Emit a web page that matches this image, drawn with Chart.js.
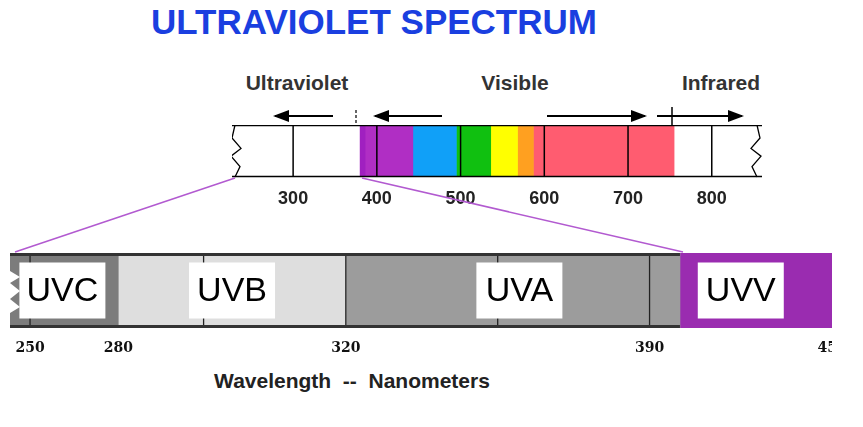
<!DOCTYPE html>
<html><head><meta charset="utf-8">
<script src="https://cdn.jsdelivr.net/npm/chart.js@4"></script>
<style>
body{margin:0;width:863px;height:427px;background:#fff;position:relative;overflow:hidden;font-family:Arial,"Liberation Sans",sans-serif}
.t{position:absolute;white-space:nowrap;transform:translate(-50%,-50%)}
#top{position:absolute;left:232px;top:125px;width:530px;height:82px}
#bot{position:absolute;left:10px;top:253px;width:822px;height:100px}
svg{position:absolute;left:0;top:0}
</style></head><body>
<div class="t" style="left:374px;top:22px;color:#1a3fe0;font-weight:bold;font-size:35px;">ULTRAVIOLET SPECTRUM</div>
<div class="t" style="left:297px;top:83px;color:#333;font-weight:bold;font-size:21px;">Ultraviolet</div>
<div class="t" style="left:515px;top:83px;color:#333;font-weight:bold;font-size:21px;">Visible</div>
<div class="t" style="left:721px;top:83px;color:#333;font-weight:bold;font-size:21px;">Infrared</div>
<div class="t" style="left:352px;top:381px;color:#222;font-weight:bold;font-size:21px;">Wavelength&nbsp;&nbsp;--&nbsp;&nbsp;Nanometers</div>
<div id="top"><canvas id="c1"></canvas></div>
<div id="bot"><canvas id="c2"></canvas></div>
<svg width="863" height="427">
<defs><marker id="ah" markerWidth="8" markerHeight="6" refX="7" refY="3" orient="auto"><path d="M0,0 L8,3 L0,6 z" fill="#000"/></marker></defs>
<g stroke="#000" stroke-width="2" fill="none">
<line x1="333" y1="116" x2="275" y2="116" marker-end="url(#ah)"/>
<line x1="442" y1="116" x2="375" y2="116" marker-end="url(#ah)"/>
<line x1="547" y1="116" x2="645" y2="116" marker-end="url(#ah)"/>
<line x1="657" y1="116" x2="742" y2="116" marker-end="url(#ah)"/>
<line x1="672" y1="107" x2="672" y2="125" stroke-width="1.5"/>
<line x1="356" y1="110" x2="356" y2="125" stroke-width="1.2" stroke-dasharray="3,2"/>
</g>
<g stroke="#b25ad0" stroke-width="1.5">
<line x1="235" y1="178" x2="15" y2="252"/>
<line x1="362" y1="178" x2="683" y2="252"/>
</g>
</svg>
<script>
// ---- top strip data (nm) ----
const topRange = [227, 860];
const topBands = [
  {label:'violet dark', from:380, to:386, color:'#a020c0'},
  {label:'violet', from:386, to:443, color:'#b02ec4'},
  {label:'blue', from:443, to:495, color:'#10a0f8'},
  {label:'green', from:495, to:536, color:'#10c010'},
  {label:'yellow', from:536, to:568, color:'#ffff00'},
  {label:'orange', from:568, to:587, color:'#ffa020'},
  {label:'red', from:587, to:755, color:'#ff5c70'}
];
const topTicks = [300, 400, 500, 600, 700, 800];

// ---- bottom strip data (nm) ----
const botBandNames = ['UVC', 'UVB', 'UVA', 'UVV'];
const botBandFrom = [243, 280, 320, 400];
const botBandTo   = [280, 320, 400, 450];
const botColors = ['#7c7c7c', '#dedede', '#9c9c9c', '#9a2cb0'];
const botLabelAt = [261, 300, 360, 420];
const botTicks = [250, 280, 320, 390, 450];
const botLines = [250, 295, 320, 355, 390];
// axis anchors: nm -> axis unit (non-uniform scale of the original drawing)
const axisNm = [243, 250, 280, 320, 390, 450];
const axisU  = [0, 20, 108, 335, 638, 820];
function nmToU(v){for(let i=1;i<axisNm.length;i++){if(v<=axisNm[i]||i===axisNm.length-1){const a=axisNm[i-1],b=axisNm[i];return axisU[i-1]+(v-a)*(axisU[i]-axisU[i-1])/(b-a);}}}
function uToNm(u){for(let i=1;i<axisU.length;i++){if(u<=axisU[i]+0.01||i===axisU.length-1){const a=axisU[i-1],b=axisU[i];return axisNm[i-1]+(u-a)*(axisNm[i]-axisNm[i-1])/(b-a);}}}

function zig(ctx,x,top,bot,dir){ctx.save();ctx.strokeStyle='#000';ctx.lineWidth=1.3;ctx.beginPath();const h=bot-top;
 ctx.moveTo(x,top);ctx.lineTo(x-3*dir,top+h*0.25);ctx.lineTo(x+6*dir,top+h*0.45);ctx.lineTo(x-4*dir,top+h*0.6);ctx.lineTo(x+5*dir,top+h*0.8);ctx.lineTo(x,bot);ctx.stroke();ctx.restore();}

const topPlugin={id:'topdec',afterDatasetsDraw(ch){const {ctx,chartArea:a,scales:{x}}=ch;ctx.save();ctx.strokeStyle='#000';ctx.lineWidth=1.5;
 topTicks.forEach(t=>{const p=x.getPixelForValue(t);ctx.beginPath();ctx.moveTo(p,a.top);ctx.lineTo(p,a.bottom);ctx.stroke();});
 ctx.beginPath();ctx.moveTo(a.left,a.top+0.5);ctx.lineTo(a.right,a.top+0.5);ctx.moveTo(a.left,a.bottom-0.5);ctx.lineTo(a.right,a.bottom-0.5);ctx.stroke();
 zig(ctx,a.left+3,a.top,a.bottom,1);zig(ctx,a.right-5,a.top,a.bottom,-1);ctx.restore();}};

new Chart(document.getElementById('c1'),{type:'bar',
 data:{labels:['s'],datasets:topBands.map(b=>({label:b.label,data:[[b.from,b.to]],backgroundColor:b.color,barPercentage:1,categoryPercentage:1,grouped:false}))},
 options:{indexAxis:'y',responsive:true,maintainAspectRatio:false,animation:false,layout:{padding:0},
  plugins:{legend:{display:false},tooltip:{enabled:false}},
  scales:{y:{display:false},
   x:{type:'linear',min:topRange[0],max:topRange[1],border:{display:false},grid:{display:false},
    afterBuildTicks(s){s.ticks=topTicks.map(v=>({value:v}));},
    afterFit(s){s.height=30;s.paddingLeft=0;s.paddingRight=0;},
    ticks:{color:'#222',font:{size:18,weight:'bold',family:'Arial'},padding:3,maxRotation:0,autoSkip:false}}}},
 plugins:[topPlugin]});

const botPlugin={id:'botdec',afterDatasetsDraw(ch){const {ctx,chartArea:a,scales:{x}}=ch;ctx.save();
 ctx.strokeStyle='#222';ctx.lineWidth=1.3;
 botLines.forEach(t=>{const p=x.getPixelForValue(nmToU(t));ctx.beginPath();ctx.moveTo(p,a.top);ctx.lineTo(p,a.bottom);ctx.stroke();});
 const pEnd=x.getPixelForValue(nmToU(botBandFrom[3]));
 ctx.strokeStyle='#333';ctx.lineWidth=3;ctx.beginPath();ctx.moveTo(a.left,a.top+1.5);ctx.lineTo(pEnd,a.top+1.5);ctx.moveTo(a.left,a.bottom-1.5);ctx.lineTo(pEnd,a.bottom-1.5);ctx.stroke();
 ctx.fillStyle='#fff';ctx.beginPath();ctx.moveTo(a.left,a.top+18);ctx.lineTo(a.left+10,a.top+24);ctx.lineTo(a.left,a.top+30);ctx.lineTo(a.left+10,a.top+38);ctx.lineTo(a.left,a.top+46);ctx.lineTo(a.left+10,a.top+54);ctx.lineTo(a.left,a.top+60);ctx.closePath();ctx.fill();
 ctx.font='34px "Liberation Sans Narrow", Arial';ctx.textAlign='center';ctx.textBaseline='middle';
 botBandNames.forEach((n,i)=>{const p=x.getPixelForValue(nmToU(botLabelAt[i]));const w=86,h=56,cy=(a.top+a.bottom)/2;
  ctx.fillStyle='#fff';ctx.fillRect(p-w/2,cy-h/2,w,h);ctx.fillStyle='#000';ctx.fillText(n,p,cy+1);});
 ctx.restore();}};

new Chart(document.getElementById('c2'),{type:'bar',
 data:{labels:['s'],datasets:botBandNames.map((n,i)=>({label:n,data:[[nmToU(botBandFrom[i]),nmToU(botBandTo[i])]],backgroundColor:botColors[i],barPercentage:1,categoryPercentage:1,grouped:false}))},
 options:{indexAxis:'y',responsive:true,maintainAspectRatio:false,animation:false,layout:{padding:0},
  plugins:{legend:{display:false},tooltip:{enabled:false}},
  scales:{y:{display:false},
   x:{type:'linear',min:axisU[0],max:axisU[axisU.length-1],border:{display:false},grid:{display:false},
    afterBuildTicks(s){s.ticks=botTicks.map(v=>({value:nmToU(v)}));},
    afterFit(s){s.height=25;s.paddingLeft=0;s.paddingRight=0;},
    ticks:{callback:v=>Math.round(uToNm(v)),color:'#111',font:{size:14,weight:'bold',family:'"DejaVu Serif", serif'},padding:4,maxRotation:0,autoSkip:false}}}},
 plugins:[botPlugin]});
</script>
</body></html>
